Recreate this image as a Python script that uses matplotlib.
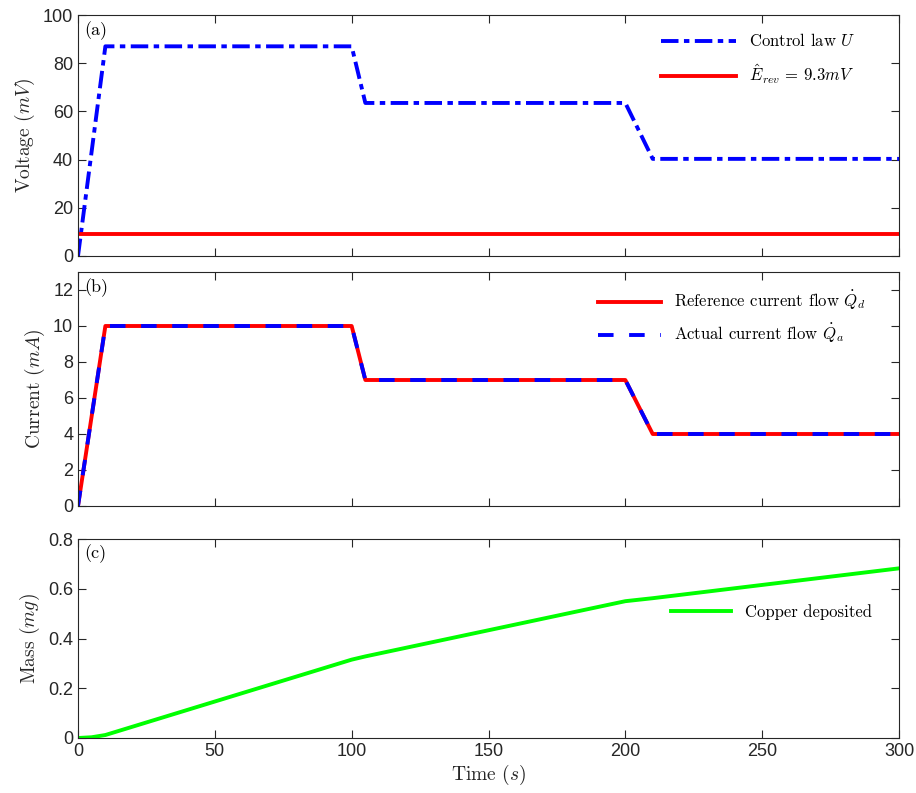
import numpy as np
import matplotlib
matplotlib.use('Agg')
from matplotlib import pyplot as plt

# values
t_u = [0, 10, 100, 105, 200, 210, 300]
u_ctrl = [0, 87, 87, 63.5, 63.5, 40.3, 40.3]
e_rev = 9.3

t_q = [0, 10, 100, 105, 200, 210, 300]
q_ref = [0, 10, 10, 7, 7, 4, 4]
q_act = [0, 10, 10, 7, 7, 4, 4]

t_m = [0, 5, 10, 100, 105, 200, 210, 300]
mass = [0, 0.003, 0.012, 0.315, 0.328, 0.550, 0.562, 0.682]

plt.rcParams['mathtext.fontset'] = 'cm'
plt.rcParams['font.family'] = ['Liberation Sans', 'DejaVu Sans']
plt.rcParams['axes.unicode_minus'] = False
serif = 'cmr10'
tc = '#262626'

fig = plt.figure(figsize=(9.16, 7.93), dpi=100)
W, H = 916, 793
def box(x0, y0, x1, y1):
	return [x0 / W, 1 - y1 / H, (x1 - x0) / W, (y1 - y0) / H]

ax1 = fig.add_axes(box(78, 15, 899, 256))
ax2 = fig.add_axes(box(78, 272, 899, 506))
ax3 = fig.add_axes(box(78, 539, 899, 738))

for ax in (ax1, ax2, ax3):
	ax.set_xlim(0, 300)
	ax.set_xticks([0, 50, 100, 150, 200, 250, 300])
	ax.tick_params(direction='in', top=True, right=True, labelsize=13, colors=tc, length=6)
	for s in ax.spines.values():
		s.set_color(tc)
		s.set_linewidth(0.8)

ax1.plot(t_u, u_ctrl, color='blue', lw=2.8, ls=(0, (4.5, 1.4, 1.4, 1.4)), label='Control law $U$')
ax1.plot([0, 300], [e_rev, e_rev], color='red', lw=2.8, label=r'$\hat{E}_{rev}$ = $9.3mV$')
ax1.set_ylim(0, 100)
ax1.set_yticks([0, 20, 40, 60, 80, 100])
ax1.tick_params(labelbottom=False)
ax1.set_ylabel('Voltage ($mV$)', fontsize=14, family=serif, color=tc)
ax1.text(0.008, 0.975, '(a)', transform=ax1.transAxes, va='top', ha='left', fontsize=13, family=serif)
ax1.legend(loc='upper right', frameon=False, prop={'family': serif, 'size': 12}, handlelength=4.5,
	bbox_to_anchor=(0.965, 0.99), labelspacing=0.8)

ax2.plot(t_q, q_ref, color='red', lw=2.8, label=r'Reference current flow $\dot{Q}_d$')
ax2.plot(t_q, q_act, color='blue', lw=2.8, ls=(0, (4, 4)), label=r'Actual current flow $\dot{Q}_a$')
ax2.set_ylim(0, 13)
ax2.set_yticks([0, 2, 4, 6, 8, 10, 12])
ax2.tick_params(labelbottom=False)
ax2.set_ylabel('Current ($mA$)', fontsize=14, family=serif, color=tc)
ax2.text(0.008, 0.975, '(b)', transform=ax2.transAxes, va='top', ha='left', fontsize=13, family=serif)
ax2.legend(loc='upper right', frameon=False, prop={'family': serif, 'size': 12}, handlelength=3.8,
	bbox_to_anchor=(0.978, 0.99), labelspacing=0.6)

ax3.plot(t_m, mass, color='#00ff00', lw=2.8, label='Copper deposited')
ax3.set_ylim(0, 0.8)
ax3.set_yticks([0, 0.2, 0.4, 0.6, 0.8])
ax3.set_yticklabels(['0', '0.2', '0.4', '0.6', '0.8'])
ax3.set_ylabel('Mass ($mg$)', fontsize=14, family=serif, color=tc)
ax3.set_xlabel('Time ($s$)', fontsize=14, family=serif, color=tc, labelpad=2)
ax3.text(0.008, 0.975, '(c)', transform=ax3.transAxes, va='top', ha='left', fontsize=13, family=serif)
ax3.legend(loc='center right', frameon=False, prop={'family': serif, 'size': 12}, handlelength=3.6,
	bbox_to_anchor=(0.985, 0.633))

fig.savefig('out.png', dpi=100)
